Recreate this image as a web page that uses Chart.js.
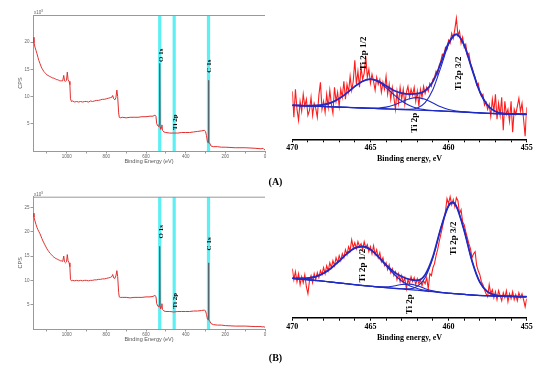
<!DOCTYPE html>
<html>
<head>
<meta charset="utf-8">
<script src="https://cdn.jsdelivr.net/npm/chart.js@4/dist/chart.umd.min.js"></script>
<style>
  body { margin: 0; background: #fff; width: 554px; height: 372px; position: relative; overflow: hidden; }
  canvas { position: absolute; }
  .tag { position: absolute; width: 17px; text-align: center; line-height: 10px; font: bold 10px 'Liberation Serif'; color: #000; }
</style>
</head>
<body>
<canvas id="surveyA" width="270" height="170" style="left:0;top:0"></canvas>
<canvas id="ti2pA" width="284" height="170" style="left:270px;top:0"></canvas>
<canvas id="surveyB" width="270" height="170" style="left:0;top:175px"></canvas>
<canvas id="ti2pB" width="284" height="170" style="left:270px;top:175px"></canvas>
<div class="tag" style="left:267px;top:176px">(A)</div>
<div class="tag" style="left:267px;top:352px">(B)</div>
<script>
// survey spectra, binding energy in eV, counts in thousands
const surveyEnergy = [1170,1165,1160,1155,1150,1145,1140,1135,1130,1125,1120,1115,1110,1105,1100,1095,1090,1085,1080,1075,1070,1065,1060,1055,1050,1045,1040,1035,1030,1025,
  1020,1015,1011,1006,1001,997,993,988,984,981,976,
  970,960,950,940,930,920,910,900,890,880,870,860,850,840,830,820,810,800,790,780,
  772,768,763,757,752,747,743,738,735,730,720,
  700,680,660,640,620,600,580,
  565,555,550,546,540,535,533,531,529,526,523,520,517,510,
  500,480,460,440,420,400,380,360,340,320,
  305,300,295,290,287,285,283,280,277,272,
  260,240,220,200,150,100,50,20,10,5,0];
const surveyCpsA = [20.9,19.9,19.1,18.5,17.9,17.2,16.6,16.1,15.6,15.2,14.9,14.6,14.4,14.2,14.0,13.9,13.8,13.7,13.6,13.5,13.4,13.4,13.3,13.2,13.1,13.1,13.0,12.9,12.9,12.9,
  12.9,13.9,12.9,12.8,13.0,14.5,13.1,12.8,12.2,9.6,9.1,
  9.2,9.0,9.1,9.0,9.1,9.0,9.1,9.1,9.0,9.2,9.1,9.2,9.3,9.3,9.4,9.5,9.5,9.6,9.7,9.8,
  9.9,10.2,9.6,9.4,9.8,11.2,10.0,7.0,6.2,6.1,6.2,
  6.1,6.2,6.2,6.2,6.3,6.3,6.4,
  6.4,6.6,6.4,5.0,4.6,4.5,5.0,16.1,4.4,4.0,4.3,4.8,3.8,3.5,
  3.4,3.3,3.3,3.3,3.4,3.4,3.4,3.5,3.6,3.7,
  3.8,3.6,2.8,1.6,1.5,13.0,1.6,1.5,1.3,0.9,
  0.8,0.8,0.7,0.7,0.6,0.6,0.5,0.4,0.5,0.3,0.2];
const surveyCpsB = [23.8,23.0,22.2,21.5,20.9,20.4,20.0,19.6,19.1,18.6,18.1,17.7,17.3,16.9,16.5,16.2,15.9,15.6,15.4,15.2,15.0,14.8,14.6,14.5,14.4,14.3,14.2,14.1,14.0,14.0,
  13.9,15.0,13.8,13.6,13.8,15.3,14.0,13.6,12.8,10.2,9.9,
  10.0,9.9,10.0,9.9,10.0,9.9,10.0,10.0,9.9,10.0,10.0,10.1,10.1,10.2,10.2,10.3,10.3,10.4,10.5,10.6,
  10.8,11.2,10.5,10.4,10.9,12.0,10.8,7.5,6.6,6.5,6.5,
  6.5,6.4,6.5,6.5,6.5,6.6,6.6,
  6.7,6.9,6.7,5.2,4.7,4.5,5.0,17.0,4.6,4.2,4.6,5.2,4.0,3.7,
  3.6,3.6,3.5,3.6,3.6,3.6,3.6,3.7,3.7,3.8,
  3.9,3.7,3.0,2.0,1.9,13.6,1.9,1.7,1.5,1.1,
  0.9,0.8,0.8,0.7,0.6,0.6,0.5,0.5,0.4,0.5,0.3];
const surveyTicks = [0,100,200,300,400,500,600,700,800,900,1000,1100];
const surveyYTicksA = [5,10,15,20];
const surveyYTicksB = [5,10,15,20,25];
const lineEnergies = [531, 458, 285];
const lineNames = ['O 1s', 'Ti 2p', 'C 1s'];
const lineLevelsA = [17.6, 5.3, 15.6];
const lineLevelsB = [20.0, 5.8, 17.5];
const spikeCentres = [531, 285];

// Ti 2p high resolution, raw counts (sampled every 0.1 eV from 470 to 455)
const ti2pRawA = [48,22,50,30,19,38,28,45,33,40,
  24,29,42,24,36,31,22,44,57,30,
  38,27,45,32,49,35,26,52,38,47,
  33,50,42,58,40,55,47,63,49,58,
  79,55,68,52,72,60,66,83,62,70,
  56,65,58,49,62,55,60,47,57,50,
  63,45,55,40,52,42,30,48,36,52,
  40,50,35,47,53,42,50,44,52,38,
  48,33,50,42,53,46,52,48,56,53,
  60,62,68,65,74,78,85,83,92,90,
  99,96,106,101,110,121,104,108,96,102,
  92,95,84,86,76,72,66,62,54,56,
  47,43,45,34,37,30,35,23,40,28,
  45,20,36,24,42,9,38,25,30,18,
  38,7,30,25,33,41,28,36,20,3,
  32];
const ti2pRawB = [49,38,46,36,44,33,41,35,43,31,
  24,37,42,35,44,38,45,40,47,43,
  50,44,52,47,55,50,57,52,60,55,
  62,57,64,60,68,63,71,67,78,70,
  75,69,76,71,74,68,76,70,73,66,
  71,64,72,63,68,60,65,56,60,52,
  55,48,53,45,49,42,46,38,44,36,
  42,35,40,29,38,34,41,36,40,33,
  39,34,38,32,37,34,40,29,44,42,
  50,54,62,68,76,83,90,98,106,119,
  114,121,113,118,111,120,117,104,108,96,
  93,86,80,74,69,60,64,66,52,47,
  43,36,33,28,24,21,33,24,28,20,
  26,18,27,22,17,25,20,27,16,24,
  19,26,18,23,17,25,20,24,18,11,
  19];

// fitted curves
const fitEnergyA = [470,469.5,469,468.5,468,467.5,467,466.5,466,465.5,465,464.5,464,463.5,463,462.5,462,461.5,461,460.5,460,459.5,459,458.5,458,457.5,457,456.5,456,455.5,455];
const envelopeA = [34.0,33.8,33.6,33.8,34.6,36.7,40.7,46.4,52.9,58.1,60.2,58.1,53.5,48.8,46.1,45.2,45.6,48.5,57.7,76.0,96.5,105.2,94.1,70.2,47.6,33.8,27.8,25.8,25.3,25.1,25.0];
const peakHalfA = [34.0,33.8,33.6,33.8,34.6,36.7,40.7,46.4,52.9,58.1,60.0,57.5,51.7,44.6,38.3,33.7,31.0,29.6,28.8,28.4,28.0,27.6,27.2,26.8,26.4,26.0,25.7,25.4,25.2,25.1,25.0];
const peakMidA = [34.0,33.7,33.4,33.1,32.8,32.5,32.2,31.9,31.6,31.4,31.2,31.3,32.2,34.3,37.5,40.6,41.7,40.0,36.3,32.5,29.8,28.2,27.4,26.8,26.4,26.0,25.7,25.4,25.2,25.1,25.0];
const peakThreeA = [34.0,33.7,33.4,33.1,32.8,32.5,32.2,31.9,31.6,31.3,31.0,30.7,30.4,30.1,29.9,29.9,31.3,36.7,49.8,71.7,94.7,104.6,93.9,70.2,47.6,33.8,27.8,25.8,25.3,25.1,25.0];
const baselineA = [34.0,33.7,33.4,33.1,32.8,32.5,32.2,31.9,31.6,31.3,31.0,30.7,30.4,30.1,29.8,29.5,29.2,28.9,28.6,28.3,28.0,27.6,27.2,26.8,26.4,26.0,25.7,25.4,25.2,25.1,25.0];

const fitEnergyB = [470,469.5,469,468.5,468,467.5,467,466.5,466,465.5,465,464.5,464,463.5,463,462.5,462,461.5,461,460.5,460,459.75,459.5,459,458.5,458,457.5,457,456.5,456,455.5,455];
const envelopeB = [39.5,39.3,39.6,41.1,44.4,49.7,56.7,64.1,69.6,71.2,68.1,61.1,52.8,45.8,41.2,38.3,37.4,43.0,61.1,89.3,112.0,115.2,111.4,87.2,56.8,35.5,25.8,22.5,21.6,21.3,21.1,21.0];
const peakHalfB = [39.5,39.3,39.6,41.1,44.4,49.7,56.7,64.1,69.6,71.2,68.1,60.9,52.0,43.5,36.7,32.0,29.2,27.4,26.2,25.2,24.5,24.2,23.9,23.3,22.7,22.2,22.0,21.7,21.5,21.3,21.1,21.0];
const peakMidB = [39.3,38.6,37.9,37.2,36.5,35.6,34.7,33.9,33.0,32.2,31.5,30.9,30.8,31.7,33.2,33.6,31.9,29.0,26.8,25.4,24.5,24.2,23.9,23.3,22.7,22.2,22.0,21.7,21.5,21.3,21.1,21.0];
const peakThreeB = [39.3,38.6,37.9,37.2,36.5,35.6,34.7,33.9,33.0,32.2,31.5,30.7,30.0,29.4,28.9,28.9,31.3,40.0,60.1,89.1,112.0,115.2,111.4,87.2,56.8,35.5,25.8,22.5,21.6,21.3,21.1,21.0];
const baselineB = [39.3,38.6,37.9,37.2,36.5,35.6,34.7,33.9,33.0,32.2,31.5,30.7,30.0,29.4,28.8,28.1,27.5,26.7,26.0,25.2,24.5,24.2,23.9,23.3,22.7,22.2,22.0,21.7,21.5,21.3,21.1,21.0];

const hiResTicks = [455,456,457,458,459,460,461,462,463,464,465,466,467,468,469,470];
const notesA = [{t: 'Ti 2p 1/2', e: 465.46, v: 86}, {t: 'Ti 2p 3/2', e: 459.38, v: 66}, {t: 'Ti 2p', e: 462.15, v: 16.6}];
const notesB = [{t: 'Ti 2p 1/2', e: 465.52, v: 52}, {t: 'Ti 2p 3/2', e: 459.7, v: 79.4}, {t: 'Ti 2p', e: 462.47, v: 13.4}];

const hiResEnergy = ti2pRawA.map((_, i) => +(470 - i * 0.1).toFixed(1));

// vertical text labels + survey frame bits
const notes = {
  id: 'notes',
  afterDatasetsDraw(chart, args, o) {
    const {ctx, chartArea, scales: {x, y}} = chart;
    ctx.save();
    ctx.fillStyle = '#000';
    ctx.font = o.font;
    ctx.textAlign = 'center';
    ctx.textBaseline = 'middle';
    o.items.forEach(it => {
      ctx.save();
      ctx.translate(x.getPixelForValue(it.e) + o.dx, y.getPixelForValue(it.v));
      ctx.rotate(-Math.PI / 2);
      ctx.fillText(it.t, 0, 0);
      ctx.restore();
    });
    if (o.frame) {
      ctx.strokeStyle = '#999';
      ctx.lineWidth = 1;
      ctx.beginPath();
      ctx.moveTo(chartArea.left, chartArea.top + 0.5);
      ctx.lineTo(chartArea.right, chartArea.top + 0.5);
      ctx.stroke();
      ctx.fillStyle = '#666';
      ctx.textAlign = 'left';
      ctx.textBaseline = 'alphabetic';
      ctx.font = '4.5px "Liberation Sans"';
      ctx.fillText('x10', chartArea.left + 1, chartArea.top - 1);
      ctx.font = '3.5px "Liberation Sans"';
      ctx.fillText('3', chartArea.left + 8, chartArea.top - 3);
    }
    ctx.restore();
  }
};

function surveyChart(id, cps, yMax, yTicks, levels, topPad, axisH, titlePad) {
  const points = surveyEnergy.map((e, i) => ({x: e, y: cps[i]}));
  const bands = lineEnergies.map(e => ({
    data: [{x: e, y: 0}, {x: e, y: yMax}],
    showLine: true, borderColor: '#5cf0f4', borderWidth: 3.2, pointRadius: 0
  }));
  new Chart(document.getElementById(id), {
    type: 'scatter',
    data: {datasets: [{
      data: points, showLine: true, borderColor: '#e23030', borderWidth: 1, pointRadius: 0,
      segment: {borderColor: c => spikeCentres.some(s => c.p0.parsed.x === s || c.p1.parsed.x === s) ? '#5a5f66' : undefined}
    }, ...bands]},
    options: {
      responsive: false, animation: false, devicePixelRatio: 1,
      layout: {padding: {top: topPad, right: 5, left: 0, bottom: 0}},
      plugins: {
        legend: {display: false}, tooltip: {enabled: false},
        notes: {font: 'bold 7px "Liberation Serif"', dx: 1, frame: true,
          items: lineNames.map((t, i) => ({t, e: lineEnergies[i], v: levels[i]}))}
      },
      scales: {
        x: {
          type: 'linear', reverse: true, min: 0, max: 1170,
          afterBuildTicks: s => { s.ticks = surveyTicks.map(v => ({value: v})); },
          afterFit: s => { s.height = axisH; },
          border: {color: '#999', width: 1},
          grid: {drawOnChartArea: false, tickLength: 2.5, color: '#999'},
          ticks: {autoSkip: false, maxRotation: 0, padding: 1, color: '#666',
            font: {size: 4.5, family: 'Liberation Sans'}, callback: v => v % 200 === 0 ? v : ''},
          title: {display: true, text: 'Binding Energy (eV)', color: '#555',
            font: {size: 5.5, family: 'Liberation Sans'}, padding: {top: 0, bottom: titlePad}}
        },
        y: {
          min: 0, max: yMax,
          afterBuildTicks: s => { s.ticks = yTicks.map(v => ({value: v})); },
          afterFit: s => { s.width = 33; },
          border: {color: '#999', width: 1},
          grid: {drawOnChartArea: false, tickLength: 2.5, color: '#999'},
          ticks: {padding: 1, color: '#666', font: {size: 4.5, family: 'Liberation Sans'}},
          title: {display: true, text: 'CPS', color: '#555',
            font: {size: 5.5, family: 'Liberation Sans'}, padding: {top: 16.7, bottom: 0}}
        }
      }
    },
    plugins: [notes]
  });
}

function ti2pChart(id, fitE, env, half, mid, three, base, raw, items, axisY, titlePad) {
  const pts = arr => fitE.map((e, i) => ({x: e, y: arr[i]}));
  const blue = (arr, w) => ({data: pts(arr), showLine: true, borderColor: '#1f2bc4', borderWidth: w,
    pointRadius: 0, cubicInterpolationMode: 'monotone'});
  new Chart(document.getElementById(id), {
    type: 'scatter',
    data: {datasets: [
      blue(env, 1.8), blue(half, 1.1), blue(mid, 1.1), blue(three, 1.1), blue(base, 1.3),
      {data: hiResEnergy.map((e, i) => ({x: e, y: raw[i]})), showLine: true,
        borderColor: '#ff1c1c', borderWidth: 1.1, pointRadius: 0}
    ]},
    options: {
      responsive: false, animation: false, devicePixelRatio: 1,
      layout: {padding: {top: 5, right: 27.3, left: 22.3, bottom: 0}},
      plugins: {
        legend: {display: false}, tooltip: {enabled: false},
        notes: {font: 'bold 9px "Liberation Serif"', dx: 0, frame: false, items}
      },
      scales: {
        x: {
          type: 'linear', reverse: true, min: 455, max: 470,
          afterBuildTicks: s => { s.ticks = hiResTicks.map(v => ({value: v})); },
          afterFit: s => { s.height = 170 - axisY; },
          border: {color: '#000', width: 1.4},
          grid: {drawOnChartArea: false, tickLength: 3, color: '#000'},
          ticks: {autoSkip: false, maxRotation: 0, padding: 1, color: '#000',
            font: {size: 8, weight: 'bold', family: 'Liberation Serif'}, callback: v => v % 5 === 0 ? v : ''},
          title: {display: true, text: 'Binding energy, eV', color: '#000',
            font: {size: 8, weight: 'bold', family: 'Liberation Serif'}, padding: {top: 0, bottom: titlePad}}
        },
        y: {display: false, min: 0, max: axisY - 5}
      }
    },
    plugins: [notes]
  });
}

surveyChart('surveyA', surveyCpsA, 25, surveyYTicksA, lineLevelsA, 15, 19, 5.7);
surveyChart('surveyB', surveyCpsB, 27.2, surveyYTicksB, lineLevelsB, 21.7, 16, 2.7);
ti2pChart('ti2pA', fitEnergyA, envelopeA, peakHalfA, peakMidA, peakThreeA, baselineA, ti2pRawA, notesA, 139.3, 6.2);
ti2pChart('ti2pB', fitEnergyB, envelopeB, peakHalfB, peakMidB, peakThreeB, baselineB, ti2pRawB, notesB, 142.7, 1.9);
</script>
</body>
</html>
